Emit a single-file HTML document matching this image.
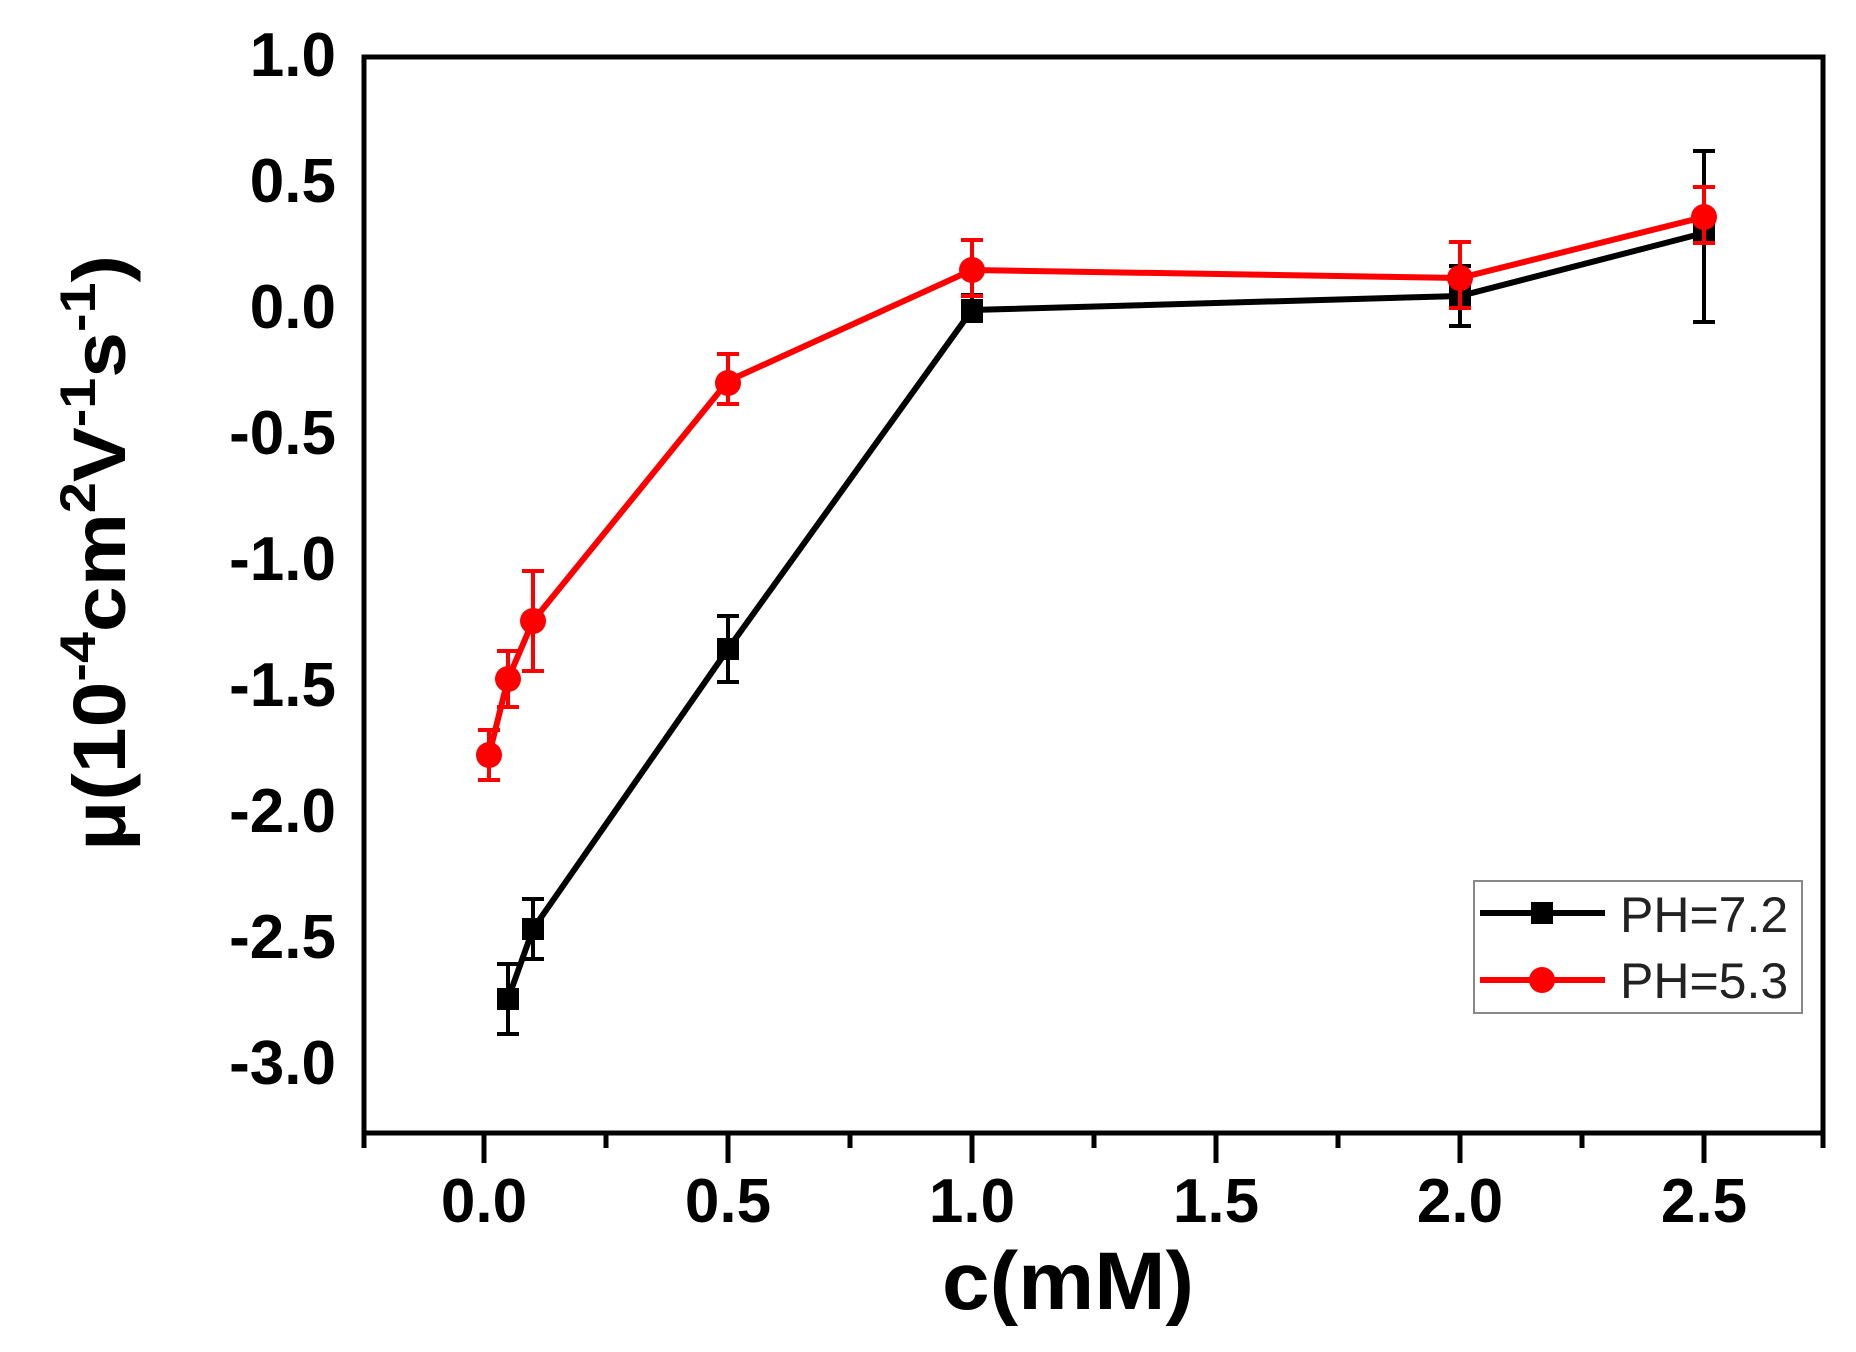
<!DOCTYPE html>
<html><head><meta charset="utf-8"><style>html,body{margin:0;padding:0;background:#fff}svg{display:block}</style></head>
<body>
<svg width="1856" height="1352" viewBox="0 0 1856 1352" xmlns="http://www.w3.org/2000/svg" font-family="Liberation Sans, Arial, sans-serif">
<rect width="1856" height="1352" fill="#fff"/>
<rect x="364" y="57" width="1459" height="1076" fill="none" stroke="#000" stroke-width="5"/>
<g stroke="#000" stroke-width="5">
<line x1="364" y1="1133" x2="364" y2="1148"/>
<line x1="484" y1="1133" x2="484" y2="1163"/>
<line x1="606" y1="1133" x2="606" y2="1148"/>
<line x1="728" y1="1133" x2="728" y2="1163"/>
<line x1="850" y1="1133" x2="850" y2="1148"/>
<line x1="972" y1="1133" x2="972" y2="1163"/>
<line x1="1094" y1="1133" x2="1094" y2="1148"/>
<line x1="1216" y1="1133" x2="1216" y2="1163"/>
<line x1="1338" y1="1133" x2="1338" y2="1148"/>
<line x1="1460" y1="1133" x2="1460" y2="1163"/>
<line x1="1582" y1="1133" x2="1582" y2="1148"/>
<line x1="1704" y1="1133" x2="1704" y2="1163"/>
<line x1="1823" y1="1133" x2="1823" y2="1148"/>
</g>
<g font-size="62" font-weight="bold" text-anchor="middle">
<text x="484" y="1222">0.0</text><text x="728" y="1222">0.5</text><text x="972" y="1222">1.0</text>
<text x="1216" y="1222">1.5</text><text x="1460" y="1222">2.0</text><text x="1704" y="1222">2.5</text>
</g>
<g font-size="62" font-weight="bold" text-anchor="end">
<text x="336" y="76">1.0</text><text x="336" y="202">0.5</text><text x="336" y="328">0.0</text>
<text x="336" y="454">-0.5</text><text x="336" y="580">-1.0</text><text x="336" y="706">-1.5</text>
<text x="336" y="832">-2.0</text><text x="336" y="958">-2.5</text><text x="336" y="1084">-3.0</text>
</g>
<text x="1068" y="1309" font-size="82" font-weight="bold" text-anchor="middle" textLength="252" lengthAdjust="spacingAndGlyphs">c(mM)</text>
<text transform="translate(125,553) rotate(-90)" font-size="74" font-weight="bold" text-anchor="middle" textLength="596" lengthAdjust="spacingAndGlyphs">μ(10<tspan font-size="50" dy="-30">-4</tspan><tspan dy="30">cm</tspan><tspan font-size="50" dy="-30">2</tspan><tspan dy="30">V</tspan><tspan font-size="50" dy="-30">-1</tspan><tspan dy="30">s</tspan><tspan font-size="50" dy="-30">-1</tspan><tspan dy="30">)</tspan></text>
<!-- black -->
<g stroke="#000" stroke-width="4">
<path d="M508,1034v-70M497,1034h22M497,964h22"/>
<path d="M533,959v-60M522,959h22M522,899h22"/>
<path d="M728,682v-66M717,682h22M717,616h22"/>
<path d="M972,321v-26M961,321h22M961,295h22"/>
<path d="M1460,326v-60M1449,326h22M1449,266h22"/>
<path d="M1704,322v-171M1693,322h22M1693,151h22"/>
</g>
<polyline points="508,999 533,929 728,649 972,310 1460,296 1704,233" fill="none" stroke="#000" stroke-width="6"/>
<g fill="#000">
<rect x="497" y="988" width="22" height="22"/><rect x="522" y="918" width="22" height="22"/>
<rect x="717" y="638" width="22" height="22"/><rect x="961" y="299" width="22" height="22"/>
<rect x="1449" y="285" width="22" height="22"/><rect x="1693" y="222" width="22" height="22"/>
</g>
<!-- red -->
<g stroke="#f00" stroke-width="4">
<path d="M489,780v-50M478,780h22M478,730h22"/>
<path d="M508,707v-56M497,707h22M497,651h22"/>
<path d="M533,671v-100M522,671h22M522,571h22"/>
<path d="M728,404v-50M717,404h22M717,354h22"/>
<path d="M972,296v-56M961,296h22M961,240h22"/>
<path d="M1460,308v-66M1449,308h22M1449,242h22"/>
<path d="M1704,243v-56M1693,243h22M1693,187h22"/>
</g>
<polyline points="489,755 508,679 533,621 728,381 972,270 1460,278 1704,217" fill="none" stroke="#f00" stroke-width="6"/>
<g fill="#f00">
<circle cx="489" cy="755" r="13"/><circle cx="508" cy="679" r="13"/><circle cx="533" cy="621" r="13"/>
<circle cx="728" cy="383" r="13"/><circle cx="972" cy="270" r="13"/><circle cx="1460" cy="278" r="13"/><circle cx="1704" cy="217" r="13"/>
</g>
<!-- legend -->
<rect x="1474" y="881" width="328" height="132" fill="#fff" stroke="#888" stroke-width="2"/>
<line x1="1480" y1="913" x2="1605" y2="913" stroke="#000" stroke-width="6"/>
<rect x="1531" y="902" width="22" height="22" fill="#000"/>
<line x1="1480" y1="980" x2="1605" y2="980" stroke="#f00" stroke-width="6"/>
<circle cx="1542" cy="980" r="13" fill="#f00"/>
<g font-size="50" fill="#222"><text x="1620" y="932">PH=7.2</text><text x="1620" y="998">PH=5.3</text></g>
</svg>
</body></html>
